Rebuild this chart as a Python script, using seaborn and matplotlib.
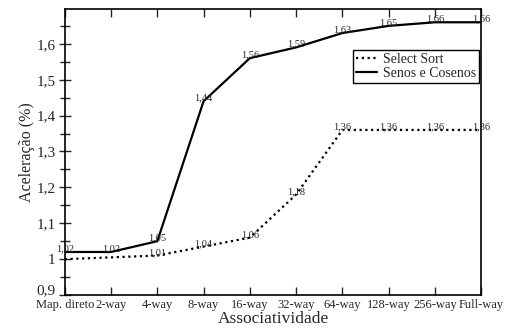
import pandas as pd
import matplotlib.pyplot as plt
import matplotlib.ticker as mticker
import matplotlib.transforms as mtransforms
import seaborn as sns

# categories on the x axis
categorias = ['Map. direto', '2-way', '4-way', '8-way', '16-way',
              '32-way', '64-way', '128-way', '256-way', 'Full-way']

# speedup values
select_sort = [1.00, 1.005, 1.01, 1.035, 1.06, 1.18, 1.36, 1.36, 1.36, 1.36]
senos_cosenos = [1.02, 1.02, 1.05, 1.44, 1.56, 1.59, 1.63, 1.65, 1.66, 1.66]

# point labels as printed on the chart
rotulos_select = ['', '', '1,01', '1,04', '1,06', '1,18', '1,36', '1,36', '1,36', '1,36']
rotulos_senos = ['1,02', '1,02', '1,05', '1,44', '1,56', '1,59', '1,63', '1,65', '1,66', '1,66']

y_ticks = [0.9, 1.0, 1.1, 1.2, 1.3, 1.4, 1.5, 1.6]
y_ticklabels = ['0,9', '1', '1,1', '1,2', '1,3', '1,4', '1,5', '1,6']

df = pd.DataFrame({
    'pos': list(range(len(categorias))) * 2,
    'valor': select_sort + senos_cosenos,
    'serie': ['Select Sort'] * len(categorias) + ['Senos e Cosenos'] * len(categorias),
})

sns.set_style('ticks')
plt.rcParams['font.family'] = ['Liberation Serif', 'DejaVu Serif']

fig = plt.figure(figsize=(5.06, 3.33), dpi=100)
ax = fig.add_axes([0.128, 0.114, 0.823, 0.859])

sns.lineplot(data=df, x='pos', y='valor', hue='serie', style='serie',
             palette={'Select Sort': 'black', 'Senos e Cosenos': 'black'},
             dashes={'Select Sort': (1, 1.6), 'Senos e Cosenos': ''},
             linewidth=1.6, ax=ax)

for i, (v, t) in enumerate(zip(select_sort, rotulos_select)):
    if t:
        ax.annotate(t, (i, v), xytext=(0, 2), textcoords='offset points',
                    ha='center', va='center', fontsize=7.5)
for i, (v, t) in enumerate(zip(senos_cosenos, rotulos_senos)):
    ax.annotate(t, (i, v), xytext=(0, 2.5), textcoords='offset points',
                ha='center', va='center', fontsize=7.5)

ax.set_xlim(0, len(categorias) - 1)
ax.set_ylim(0.9, 1.697)
ax.set_xticks(range(len(categorias)))
ax.set_xticklabels(categorias, fontsize=9)
ax.set_yticks(y_ticks)
ax.set_yticklabels(y_ticklabels, fontsize=11)
ax.yaxis.set_minor_locator(mticker.MultipleLocator(0.05))

ax.tick_params(axis='y', which='major', direction='inout', length=9, width=1, right=False, pad=2)
ax.tick_params(axis='y', which='minor', direction='inout', length=7, width=1, right=False)
ax.tick_params(axis='x', which='major', direction='in', length=6, width=1, top=True, pad=3)
for s in ax.spines.values():
    s.set_linewidth(1.2)
    s.set_color('black')

# lift the bottom y label a little so it sits above "Map. direto"
lbl = ax.get_yticklabels()[0]
lbl.set_transform(lbl.get_transform() + mtransforms.ScaledTranslation(0, 4 / 72, fig.dpi_scale_trans))

ax.set_xlabel('Associatividade', fontsize=12.5, labelpad=0)
ax.set_ylabel('Aceleração (%)', fontsize=11.5, labelpad=1)

leg = ax.legend(loc='upper left', bbox_to_anchor=(0.692, 0.857), fontsize=10,
                frameon=True, fancybox=False, edgecolor='black', framealpha=1,
                handlelength=1.5, handletextpad=0.5, labelspacing=0.1,
                borderpad=0.2, borderaxespad=0)
leg.get_frame().set_linewidth(1.0)
leg.set_title(None)

fig.savefig('out.png', dpi=100)
